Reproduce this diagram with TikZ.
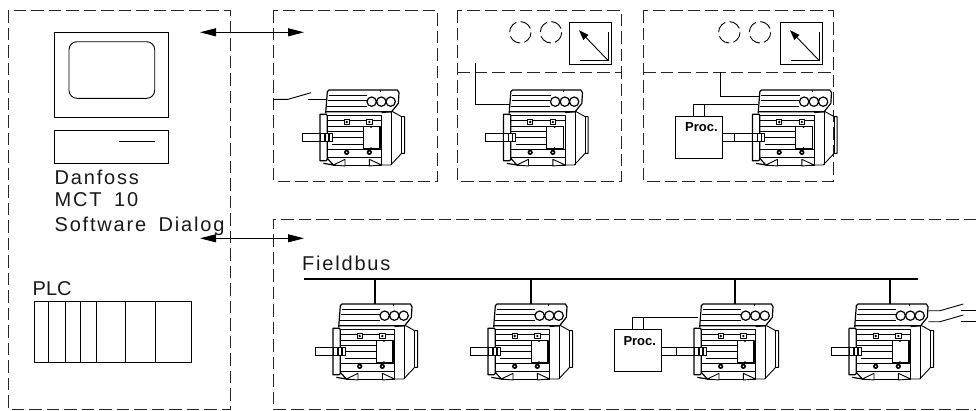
\documentclass[tikz,border=0pt]{standalone}
\usepackage{fontspec}
\setmainfont{Liberation Sans}
\newfontfamily\cad[LetterSpace=9,WordSpace=1.7]{Liberation Sans}
\newfontfamily\cadplain[LetterSpace=0]{Liberation Sans}
\usetikzlibrary{arrows.meta}
\tikzset{
  dbox/.style={draw=black!85,line width=.9pt,dash pattern=on 12.5pt off 5pt},
  sline/.style={draw=black,line width=.9pt},
  heavy line/.style={draw=black,line width=1.2pt},
  thin line/.style={draw=black,line width=.65pt},
  twoway/.style={sline,{Triangle[length=16pt,width=8pt]}-{Triangle[length=16pt,width=8pt]}},
  caption/.style={font=\cad\fontsize{20}{20}\selectfont,anchor=base west,inner sep=0pt,text=black!90},
  plccaption/.style={font=\cadplain\fontsize{20}{20}\selectfont,anchor=base west,inner sep=0pt,text=black!90},
  proclabel/.style={font=\bfseries\fontsize{13}{13}\selectfont,anchor=base west,inner sep=0pt},
  motor/.pic={
    \begin{scope}[shift={(270,70)},x=.33333pt,y=-.33333pt,line join=round]
      % terminal box
      \draw[heavy line] (167,130) -- (172,65) -- (177,60) -- (382,60) -- (387,68) -- (385,100) -- (365,125) -- (169,125);
      \draw[thin line] (176,76) -- (292,76) (174,92) -- (290,92) (172,108) -- (290,108) (330,60)--(330,66);
      \draw[heavy line,fill=white] (305,95) circle [radius=14] (334,95) circle [radius=14] (362,95) circle [radius=14];
      % body
      \draw[sline] (172,135) -- (335,135) -- (335,285) -- (190,285);
      \draw[thin line] (172,150) -- (335,150) (172,168) -- (280,168) (172,185) -- (280,185) (187,203) -- (280,203) (187,222) -- (280,222) (172,237) -- (335,237) (172,262) -- (335,262);
      % end cap
      \draw[sline] (335,128) -- (368,125) -- (395,140) -- (404,140) -- (404,250) -- (395,250) -- (362,285) -- (335,285);
      \draw[thin line] (395,140) -- (395,250) (365,125)--(365,285);
      % connection box
      \draw[heavy line,fill=white] (280,170) rectangle (330,236);
      \fill (303,172) circle [radius=2.5] (303,234) circle [radius=2.5];
      % bolts
      \draw[sline,fill=white] (222,149) rectangle (238,163) (290,149) rectangle (306,163);
      \fill (230,156) circle [radius=4] (298,156) circle [radius=4];
      \fill (230,247) circle [radius=8] (298,247) circle [radius=8];
      \fill[white] (230,247) circle [radius=2.5] (298,247) circle [radius=2.5];
      % feet
      \draw[sline,fill=white] (190,285) -- (225,268) -- (225,288) -- cycle (298,288) -- (298,268) -- (335,285) -- cycle;
      \draw[heavy line] (172,265) -- (190,285) -- (160,280);
      % flange
      \draw[heavy line,fill=white] (150,133) -- (170,133) -- (172,140) -- (172,268) -- (168,272) -- (150,272) -- cycle;
      % collar
      \draw[sline,fill=white] (150,190) rectangle (187,215);
      \draw[heavy line] (165,190) -- (165,215) (177,190) -- (177,215);
    \end{scope}
  },
  shaft/.pic={
    \begin{scope}[shift={(270,70)},x=.33333pt,y=-.33333pt]
      \draw[sline] (97,190) rectangle (150,215);
    \end{scope}
  },
}
\begin{document}
\begin{tikzpicture}[x=1pt,y=-1pt,line cap=butt]
\useasboundingbox (0,0) rectangle (976,410);
% dashed frames
\draw[dbox] (8,10) rectangle (230.7,409);
\draw[dbox] (273.5,10) rectangle (437,181);
\draw[dbox] (457,10) rectangle (621,181);
\draw[dbox] (457,72) -- (621,72);
\draw[dbox] (643,10) rectangle (833,181);
\draw[dbox] (643,72) -- (833,72);
\draw[dbox] (976,219) -- (273.5,219) -- (273.5,409) -- (976,409);
% computer
\draw[sline] (54.5,32.3) rectangle (168.3,117.3);
\draw[sline,rounded corners=8pt] (69,41.7) rectangle (154.7,98.3);
\draw[sline] (54.5,130) rectangle (168.3,163);
\draw[sline] (119,141.3) -- (154.7,141.3);
\node[caption] (danfoss) at (54.5,184) {Danfoss};
\node[caption] (mct) at (54.5,206.7) {MCT 10};
\node[caption] (dialog) at (54.5,231) {Software Dialog};
% PLC
\node[plccaption] (plc) at (32.5,295) {PLC};
\draw[sline] (34,301) rectangle (191.7,362.7);
\foreach \px in {48.7,65.7,80.7,96,125.3,155}{\draw[sline] (\px,301) -- (\px,362.7);}
% arrows
\coordinate (a1l) at (200,32.3); \coordinate (a1r) at (304,32.3);
\coordinate (a2l) at (200,238.3); \coordinate (a2r) at (304,238.3);
\draw[twoway] (a1l) -- (a1r);
\draw[twoway] (a2l) -- (a2r);
% top motors
\pic at (0,0) {motor}; \pic at (0,0) {shaft};
\pic at (183.5,0) {motor}; \pic at (183.5,0) {shaft};
\pic at (432.5,0) {motor}; \pic at (432.5,0) {shaft};
% switch
\draw[sline] (273.5,99.3) -- (288,99.3) -- (311,92.7);
\draw[sline] (308,99.3) -- (327,99.3);
% box 2 wire
\draw[sline] (475,63.3) -- (475,104) -- (510,104);
% gauges
\foreach \gx/\cx in {0/0,-211/-209}{
  \draw[sline,dash pattern=on 12.5pt off 4.3pt] (729.3+\cx,32.3) circle [radius=10.7] (760+\cx,32.3) circle [radius=10.7];
  \begin{scope}[shift={(\gx,0)}]
    \draw[sline] (780,22) rectangle (822.7,64);
    \draw[sline] (790.7,60.7) -- (819.3,60.7) -- (819.3,31.7);
    \draw[sline,-{Triangle[length=10pt,width=7pt]}] (819.3,60.7) -- (790,30.2);
  \end{scope}
}
% box 3 wiring
\draw[sline] (720,72) -- (720,96.7) -- (760,96.7);
\node[sline,minimum width=46.6pt,minimum height=42pt,inner sep=0pt] (proca) at (699,137.3) {};
\node[proclabel] at (685,131.7) {Proc.};
\draw[sline] (693.3,116.3) -- (693.3,104.3) -- (758,104.3);
\draw[sline] (704.3,116.3) -- (704.3,104.3);
\draw[sline] (722.3,133.3) -- (735,133.3) (722.3,141.7) -- (735,141.7);
% fieldbus
\node[caption] (fb) at (302,270) {Fieldbus};
\coordinate (busl) at (304,279); \coordinate (busr) at (917.7,279);
\draw[draw=black,line width=2pt] (busl) -- (busr);
\foreach \dx in {375,531,735,890}{\draw[draw=black,line width=1.2pt] (\dx,279) -- (\dx,304);}
% bus motors
\pic at (13,214) {motor}; \pic at (13,214) {shaft};
\pic at (168,214) {motor}; \pic at (168,214) {shaft};
\pic at (374,214) {motor}; \pic at (374,214) {shaft};
\pic at (529,214) {motor}; \pic at (529,214) {shaft};
% proc on bus
\node[sline,minimum width=47pt,minimum height=42.4pt,inner sep=0pt] (procb) at (637.5,350.5) {};
\node[proclabel] at (623.3,345) {Proc.};
\draw[sline] (632.7,329.3) -- (632.7,317.3) -- (698.3,317.3);
\draw[sline] (643.3,329.3) -- (643.3,317.3);
\draw[sline] (661,347) -- (676,347) (661,355.7) -- (676,355.7);
% output lines
\draw[sline] (928.3,310.7) -- (940,310.7) -- (963.3,304);
\draw[sline] (961,310) -- (976,310);
\draw[sline] (928.3,321.7) -- (940,321.7) -- (963.3,315);
\draw[sline] (961,321) -- (976,321);
\end{tikzpicture}
\end{document}
